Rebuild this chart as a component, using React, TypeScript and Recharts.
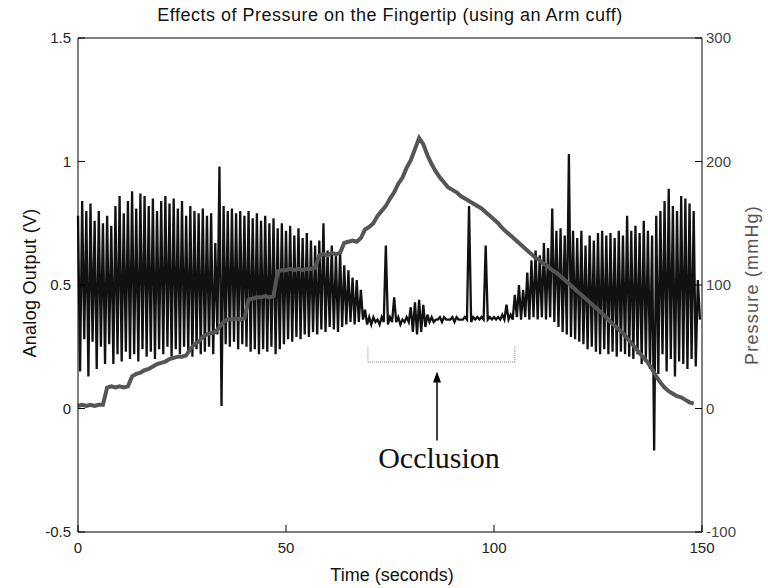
import React from 'react';
import { ComposedChart, Line, XAxis, YAxis, ReferenceLine } from 'recharts';

// seconds 0..149: upper and lower swing of the fingertip signal (V)
const hiV = [
  0.78, 0.84, 0.80, 0.83, 0.76, 0.80, 0.75, 0.78, 0.74, 0.82,
  0.86, 0.79, 0.84, 0.88, 0.81, 0.87, 0.86, 0.82, 0.85, 0.80,
  0.84, 0.86, 0.83, 0.85, 0.81, 0.84, 0.78, 0.82, 0.80, 0.79,
  0.81, 0.78, 0.79, 0.67, 0.98, 0.82, 0.80, 0.81, 0.79, 0.80,
  0.78, 0.80, 0.77, 0.79, 0.76, 0.78, 0.75, 0.77, 0.73, 0.75,
  0.72, 0.74, 0.70, 0.73, 0.69, 0.71, 0.68, 0.66, 0.68, 0.75,
  0.64, 0.66, 0.62, 0.64, 0.58, 0.56, 0.53, 0.52, 0.48, 0.40,
  0.37, 0.37, 0.36, 0.37, 0.66, 0.37, 0.45, 0.37, 0.36, 0.37,
  0.41, 0.43, 0.44, 0.42, 0.38, 0.37, 0.36, 0.37, 0.37, 0.36,
  0.37, 0.37, 0.36, 0.37, 0.82, 0.37, 0.37, 0.37, 0.66, 0.37,
  0.37, 0.37, 0.38, 0.42, 0.38, 0.46, 0.50, 0.48, 0.55, 0.60,
  0.64, 0.62, 0.67, 0.65, 0.81, 0.72, 0.73, 0.70, 1.03, 0.72,
  0.69, 0.72, 0.66, 0.70, 0.68, 0.71, 0.72, 0.70, 0.71, 0.69,
  0.72, 0.70, 0.78, 0.72, 0.74, 0.71, 0.76, 0.72, 0.70, 0.78,
  0.80, 0.84, 0.89, 0.82, 0.80, 0.86, 0.85, 0.83, 0.80, 0.52,
];
const loV = [
  0.15, 0.28, 0.13, 0.27, 0.16, 0.25, 0.18, 0.26, 0.18, 0.22,
  0.19, 0.23, 0.20, 0.22, 0.19, 0.24, 0.21, 0.23, 0.20, 0.24,
  0.22, 0.25, 0.21, 0.24, 0.22, 0.25, 0.23, 0.21, 0.24, 0.22,
  0.23, 0.25, 0.22, 0.30, 0.01, 0.26, 0.25, 0.27, 0.24, 0.26,
  0.25, 0.23, 0.24, 0.22, 0.24, 0.23, 0.25, 0.22, 0.24, 0.26,
  0.28, 0.27, 0.29, 0.28, 0.30, 0.29, 0.31, 0.30, 0.32, 0.31,
  0.33, 0.32, 0.31, 0.33, 0.34, 0.35, 0.34, 0.35, 0.36, 0.34,
  0.34, 0.35, 0.34, 0.35, 0.34, 0.35, 0.35, 0.34, 0.35, 0.35,
  0.31, 0.30, 0.31, 0.33, 0.35, 0.35, 0.36, 0.35, 0.36, 0.36,
  0.35, 0.36, 0.36, 0.36, 0.35, 0.36, 0.36, 0.36, 0.36, 0.36,
  0.36, 0.36, 0.36, 0.36, 0.36, 0.37, 0.36, 0.37, 0.36, 0.37,
  0.36, 0.37, 0.36, 0.37, 0.35, 0.33, 0.31, 0.30, 0.29, 0.28,
  0.27, 0.26, 0.24, 0.25, 0.23, 0.22, 0.24, 0.22, 0.23, 0.21,
  0.23, 0.22, 0.21, 0.20, 0.22, 0.18, 0.20, 0.16, -0.17, 0.14,
  0.22, 0.15, 0.20, 0.13, 0.19, 0.18, 0.16, 0.20, 0.17, 0.36,
];
// cuff pressure (mmHg), one reading per second 0..148
const pressure = [
  2, 3, 2, 3, 2, 3, 3, 17, 18, 17,
  18, 17, 18, 26, 28, 29, 31, 32, 34, 36,
  37, 38, 40, 41, 42, 42, 43, 48, 52, 54,
  58, 60, 61, 62, 66, 70, 72, 72, 73, 72,
  73, 88, 89, 90, 90, 91, 90, 91, 111, 112,
  112, 113, 112, 113, 112, 113, 113, 114, 124, 125,
  124, 126, 125, 126, 134, 135, 136, 135, 138, 145,
  147, 150, 156, 160, 164, 170, 175, 182, 187, 195,
  201, 210, 219, 214, 205, 198, 192, 187, 183, 179,
  177, 175, 172, 170, 168, 166, 164, 162, 159, 156,
  153, 150, 146, 143, 140, 137, 134, 131, 128, 125,
  122, 120, 117, 115, 112, 110, 107, 104, 101, 98,
  95, 92, 89, 86, 83, 80, 77, 74, 70, 67,
  64, 61, 57, 53, 49, 45, 41, 37, 32, 26,
  21, 17, 14, 12, 10, 9, 7, 5, 4,
];

const xTicks = [0, 50, 100, 150];
const vTicks = [-0.5, 0, 0.5, 1, 1.5];
const pTicks = [-100, 0, 100, 200, 300];

const analogData = hiV.flatMap((h, i) => [
  { t: i, v: h },
  { t: i + 0.5, v: loV[i] },
]);
const pressureData = pressure.map((p, i) => ({ t: i, p }));

const font = '"Liberation Sans", Arial, sans-serif';
const TL = 7; // inward tick length
const GAP_B = 10;
const GAP_L = 7;
const GAP_R = 4;

// MATLAB-style ticks: the mark points into the plot box
const BottomTick = (props: any) => {
  const { x, y, payload } = props;
  const ay = y - GAP_B;
  return (
    <g>
      <line x1={x} y1={ay} x2={x} y2={ay - TL} stroke="#000" />
      <text x={x} y={y} dy="0.71em" textAnchor="middle" fill="#222" fontSize={15} fontFamily={font}>{payload.value}</text>
    </g>
  );
};
const TopTick = (props: any) => {
  const { x, y } = props;
  return <line x1={x} y1={y} x2={x} y2={y + TL} stroke="#000" />;
};
const LeftTick = (props: any) => {
  const { x, y, payload } = props;
  const ax = x + GAP_L;
  return (
    <g>
      <line x1={ax} y1={y} x2={ax + TL} y2={y} stroke="#000" />
      <text x={x} y={y} dy="0.355em" textAnchor="end" fill="#222" fontSize={15} fontFamily={font}>{payload.value}</text>
    </g>
  );
};
const RightTick = (props: any) => {
  const { x, y, payload } = props;
  const ax = x - GAP_R;
  return (
    <g>
      <line x1={ax} y1={y} x2={ax - TL} y2={y} stroke="#000" />
      <text x={x} y={y} dy="0.355em" textAnchor="start" fill="#444" fontSize={15} fontFamily={font}>{payload.value}</text>
    </g>
  );
};

const Arrow = (props: any) => {
  const { x1, y1, x2, y2 } = props;
  return (
    <g>
      <line x1={x1} y1={y1} x2={x2} y2={y2 + 8} stroke="#000" strokeWidth={1.5} />
      <polygon points={`${x2},${y2} ${x2 - 4},${y2 + 11} ${x2 + 4},${y2 + 11}`} fill="#000" />
    </g>
  );
};

export default function App() {
  return (
    <div style={{ position: 'absolute', left: 0, top: 0, width: 768, height: 588, background: '#fff', fontFamily: font }}>
      <ComposedChart width={768} height={588} margin={{ top: 37, right: 26, bottom: 26, left: 48 }}>
        <XAxis
          xAxisId="top"
          orientation="top"
          type="number"
          domain={[0, 150]}
          ticks={xTicks}
          height={1}
          tickSize={0}
          tickMargin={0}
          tickLine={false}
          tick={<TopTick />}
          axisLine={{ stroke: '#000' }}
        />
        <XAxis
          dataKey="t"
          type="number"
          domain={[0, 150]}
          ticks={xTicks}
          height={30}
          tickSize={0}
          tickMargin={GAP_B}
          tickLine={false}
          axisLine={{ stroke: '#000' }}
          tick={<BottomTick />}
        />
        <YAxis
          yAxisId="v"
          type="number"
          domain={[-0.5, 1.5]}
          ticks={vTicks}
          width={30}
          tickSize={0}
          tickMargin={GAP_L}
          tickLine={false}
          axisLine={{ stroke: '#000' }}
          tick={<LeftTick />}
        />
        <YAxis
          yAxisId="p"
          orientation="right"
          type="number"
          domain={[-100, 300]}
          ticks={pTicks}
          width={40}
          tickSize={0}
          tickMargin={GAP_R}
          tickLine={false}
          axisLine={{ stroke: '#000' }}
          tick={<RightTick />}
        />
        <Line
          yAxisId="v"
          data={analogData}
          dataKey="v"
          stroke="#111"
          strokeWidth={2.3}
          dot={false}
          isAnimationActive={false}
        />
        <Line
          yAxisId="p"
          data={pressureData}
          dataKey="p"
          stroke="#555"
          strokeWidth={4}
          dot={false}
          isAnimationActive={false}
        />
        <ReferenceLine yAxisId="v" segment={[{ x: 69.7, y: 0.25 }, { x: 69.7, y: 0.188 }]} stroke="#888" strokeDasharray="1 1" />
        <ReferenceLine yAxisId="v" segment={[{ x: 69.7, y: 0.188 }, { x: 105, y: 0.188 }]} stroke="#888" strokeDasharray="1 1" />
        <ReferenceLine yAxisId="v" segment={[{ x: 105, y: 0.188 }, { x: 105, y: 0.25 }]} stroke="#888" strokeDasharray="1 1" />
        <ReferenceLine yAxisId="v" segment={[{ x: 86.3, y: -0.13 }, { x: 86.3, y: 0.15 }]} shape={Arrow} />
      </ComposedChart>
      <div style={{ position: 'absolute', left: 0, width: 780, top: 5, textAlign: 'center', fontSize: 18, letterSpacing: 0.5, color: '#111' }}>
        Effects of Pressure on the Fingertip (using an Arm cuff)
      </div>
      <div style={{ position: 'absolute', left: 0, width: 784, top: 565, textAlign: 'center', fontSize: 18, color: '#111' }}>
        Time (seconds)
      </div>
      <div style={{ position: 'absolute', left: 30, top: 283, transform: 'translate(-50%, -50%) rotate(-90deg)', whiteSpace: 'nowrap', fontSize: 18, letterSpacing: 0.3, color: '#111' }}>
        Analog Output (V)
      </div>
      <div style={{ position: 'absolute', left: 752, top: 285, transform: 'translate(-50%, -50%) rotate(-90deg)', whiteSpace: 'nowrap', fontSize: 18, letterSpacing: 1.2, color: '#555' }}>
        Pressure (mmHg)
      </div>
      <div style={{ position: 'absolute', left: 439, top: 458, transform: 'translate(-50%, -50%)', whiteSpace: 'nowrap', fontSize: 30, fontFamily: '"Liberation Serif", "Times New Roman", serif', color: '#111' }}>
        Occlusion
      </div>
    </div>
  );
}
